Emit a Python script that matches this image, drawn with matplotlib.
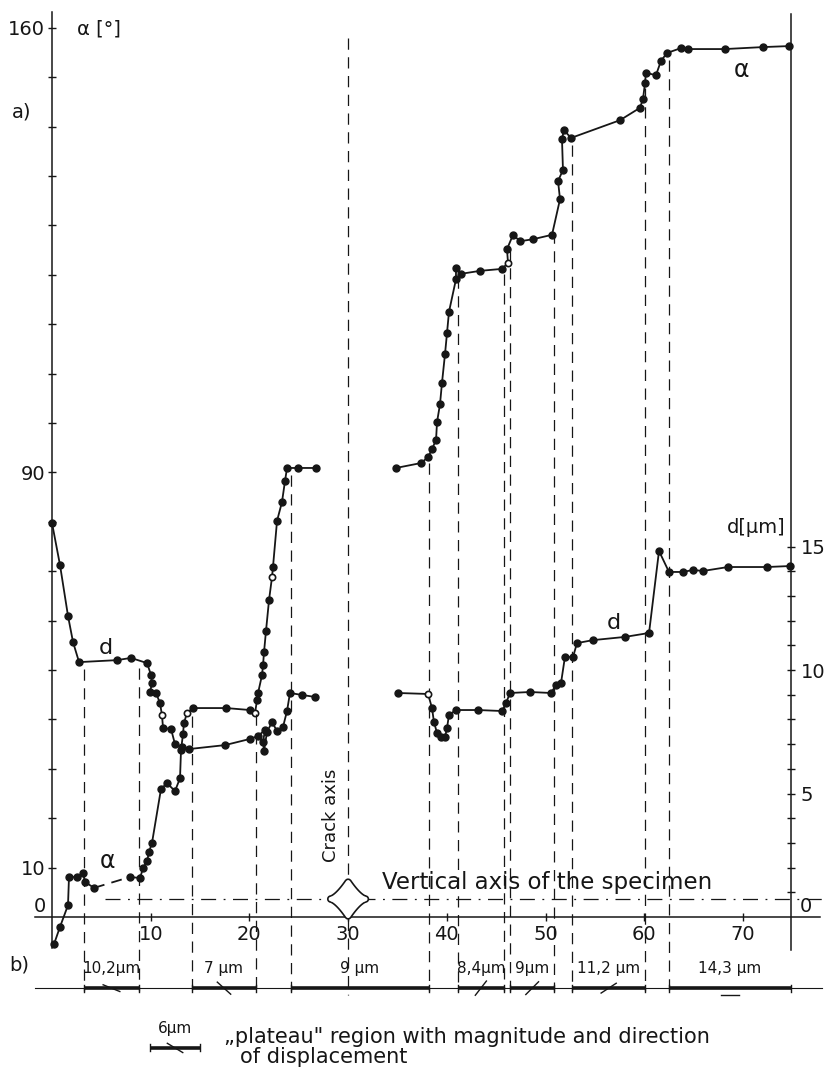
import numpy as np
import matplotlib.pyplot as plt

# --- data ---------------------------------------------------------------
# position along the specimen (x) and the angle alpha [deg], left of crack
alpha_left_x = [0.2, 0.81, 1.62, 1.72, 2.53, 3.14, 3.34, 4.26, 7.90, 8.92, 9.22, 9.63,
                9.83, 10.13, 11.04, 11.65, 12.46, 12.97, 13.07, 13.27, 13.37, 13.68,
                14.29, 17.63, 20.06, 20.57, 20.77, 20.87, 21.28, 21.38, 21.48, 21.68,
                21.99, 22.29, 22.39, 22.80, 23.30, 23.61, 23.81, 24.92, 26.75]
alpha_left = [-5.5, -2.0, 2.4, 8.1, 8.1, 8.9, 7.1, 5.9, 8.1, 7.9, 9.9, 11.3,
              13.2, 15.0, 25.9, 27.1, 25.5, 28.1, 33.8, 37.0, 39.3, 41.3,
              42.3, 42.3, 41.9, 41.3, 43.9, 45.3, 49.0, 51.0, 53.6, 57.9,
              64.2, 68.8, 70.9, 80.2, 84.0, 88.3, 90.9, 90.9, 90.9]

# displacement d [um], left of crack
d_left_x = [0.0, 0.81, 1.62, 2.13, 2.74, 6.59, 8.00, 9.63, 10.03, 10.13, 9.93, 10.54,
            10.94, 11.14, 11.25, 12.06, 12.46, 13.17, 13.88, 17.53, 20.06, 20.87,
            21.58, 21.38, 21.48, 21.78, 22.29, 22.80, 23.40, 23.81, 24.11, 25.33, 26.65]
d_left = [15.95, 14.25, 12.19, 11.13, 10.32, 10.40, 10.49, 10.28, 9.80, 9.47, 9.11, 9.07,
          8.66, 8.18, 7.65, 7.61, 7.00, 6.88, 6.80, 6.96, 7.21, 7.33,
          7.57, 7.09, 6.72, 7.49, 7.89, 7.53, 7.69, 8.34, 9.07, 8.99, 8.91]

# right of crack
alpha_right_x = [34.85, 37.39, 38.10, 38.50, 38.91, 39.01, 39.31, 39.51, 39.82, 40.02,
                 40.22, 40.93, 40.93, 41.44, 43.36, 45.59, 46.20, 46.10, 46.71, 47.42,
                 48.73, 50.66, 51.47, 51.27, 51.77, 51.67, 51.87, 52.58, 57.55, 59.57,
                 59.88, 60.08, 60.18, 61.19, 61.70, 62.31, 63.73, 64.44, 68.19, 72.04, 74.67]
alpha_right = [90.9, 91.9, 93.1, 94.7, 96.6, 100.2, 103.8, 108.1, 114.0, 118.2,
               122.5, 129.1, 131.4, 130.2, 130.8, 131.2, 132.4, 135.2, 138.1, 136.8,
               137.2, 138.1, 145.3, 149.0, 151.2, 157.5, 159.3, 157.7, 161.3, 163.8,
               165.6, 168.8, 170.9, 170.4, 173.3, 174.9, 175.9, 175.7, 175.7, 176.1, 176.3]

d_right_x = [35.06, 38.10, 38.50, 38.70, 39.01, 39.41, 39.82, 40.02, 40.22, 40.93,
             43.16, 45.59, 46.00, 46.40, 48.43, 50.56, 51.06, 51.57, 51.97, 52.79,
             53.19, 54.81, 58.05, 60.49, 61.50, 62.51, 63.93, 64.94, 65.96, 68.49,
             72.44, 74.77]
d_right = [9.07, 9.03, 8.46, 7.89, 7.45, 7.29, 7.29, 7.65, 8.18, 8.38,
           8.38, 8.34, 8.66, 9.07, 9.11, 9.07, 9.39, 9.47, 10.53, 10.53,
           11.09, 11.21, 11.34, 11.50, 14.82, 13.97, 13.97, 14.05, 14.01, 14.17,
           14.17, 14.21]

# points drawn as open circles
open_alpha_left = [21, 25, 33]
open_d_left = [13]
open_alpha_right = [16]
open_d_right = [1]

# plateau boundaries (dashed verticals) and crack axis
boundaries = [3.24, 8.81, 14.18, 20.67, 24.2, 38.2, 41.1, 45.8, 46.4, 50.9, 52.7, 60.1, 62.5]
crack_x = 30.0
x_end = 74.9

plateau_labels = ['10,2µm', '7 µm', '9 µm', '8,4µm', '9µm', '11,2 µm', '14,3 µm']
plateau_dirs = [-22, -42, None, 52, 45, 33, 0]   # direction of displacement [deg]

D_SCALE = 5  # drawing: 1 um of d takes as much height as 5 deg of alpha

# --- figure ----------------------------------------------------------------
INK = '#161616'
fig = plt.figure(figsize=(8.26, 10.67), dpi=100)
ax = fig.add_axes([0, 0, 1, 1])
ax.set_xlim(-5.27, 78.42)
ax.set_ylim(-30.36, 185.63)
ax.patch.set_visible(False)
ax2 = ax.twinx()
lo, hi = ax.get_ylim()
ax2.set_ylim(lo / D_SCALE, hi / D_SCALE)

for s in ['top', 'right']:
    ax.spines[s].set_visible(False)
for s in ['top', 'left', 'bottom']:
    ax2.spines[s].set_visible(False)
ax.spines['left'].set_position(('data', 0))
ax.spines['left'].set_bounds(-6.3, 183.2)
ax.spines['bottom'].set_position(('data', 0))
ax.spines['bottom'].set_bounds(-1.72, 77.8)
ax2.spines['right'].set_position(('data', x_end))
ax2.spines['right'].set_bounds(-1.34, 36.56)
for sp in [ax.spines['left'], ax.spines['bottom'], ax2.spines['right']]:
    sp.set_color(INK)
    sp.set_linewidth(1.1)

ax.set_xticks(range(10, 80, 10))
ax.set_xticklabels([str(v) for v in range(10, 80, 10)])
ytk = list(range(10, 190, 10))
ax.set_yticks(ytk)
ax.set_yticklabels(['10' if v == 10 else '90' if v == 90 else '160' if v == 180 else '' for v in ytk])
dtk = list(range(1, 16))
ax2.set_yticks(dtk)
ax2.set_yticklabels([str(v) if v % 5 == 0 else '' for v in dtk])
ax.tick_params(axis='x', direction='inout', length=6, width=1, labelsize=14, pad=3, colors=INK)
ax.tick_params(axis='y', direction='inout', length=6, width=1, labelsize=14, pad=2, colors=INK)
ax2.tick_params(axis='y', direction='inout', length=6, width=1, labelsize=14, pad=4, colors=INK)

ax.text(-0.6, 2.2, '0', ha='right', va='center', fontsize=14, color=INK)
ax2.text(x_end + 0.9, 2.2 / D_SCALE, '0', ha='left', va='center', fontsize=14, color=INK)
ax.text(2.55, 179.8, 'α [°]', ha='left', va='center', fontsize=14, color=INK)
ax2.text(74.3, 15.75, 'd[µm]', ha='right', va='center', fontsize=14, color=INK)
ax.text(-4.1, 163.0, 'a)', ha='left', va='center', fontsize=14, color=INK)
ax.text(-4.3, -9.7, 'b)', ha='left', va='center', fontsize=14, color=INK)

# --- curves ----------------------------------------------------------------
line_kw = dict(color=INK, lw=1.3, solid_joinstyle='round')
mk_kw = dict(ls='none', marker='o', ms=5, color=INK)


def draw_series(axis, xs, ys, hollow, dashed_seg=None):
    xs = np.asarray(xs)
    ys = np.asarray(ys)
    if dashed_seg is None:
        axis.plot(xs, ys, **line_kw)
    else:
        i = dashed_seg
        axis.plot(xs[:i + 1], ys[:i + 1], **line_kw)
        axis.plot(xs[i:i + 2], ys[i:i + 2], dashes=(6, 4), **line_kw)
        axis.plot(xs[i + 1:], ys[i + 1:], **line_kw)
    full = [k for k in range(len(xs)) if k not in hollow]
    axis.plot(xs[full], ys[full], **mk_kw)
    axis.plot(xs[hollow], ys[hollow], ls='none', marker='o', ms=4.5,
              mfc='white', mec=INK, mew=1.2)


draw_series(ax, alpha_left_x, alpha_left, open_alpha_left, dashed_seg=7)
draw_series(ax, alpha_right_x, alpha_right, open_alpha_right)
draw_series(ax2, d_left_x, d_left, open_d_left)
draw_series(ax2, d_right_x, d_right, open_d_right)

ax.text(5.6, 11.3, 'α', fontsize=17, color=INK, ha='center', va='center')
ax.text(69.9, 171.5, 'α', fontsize=17, color=INK, ha='center', va='center')
ax2.text(5.5, 10.9, 'd', fontsize=16, color=INK, ha='center', va='center')
ax2.text(56.9, 11.9, 'd', fontsize=16, color=INK, ha='center', va='center')


# --- dashed plateau boundaries -------------------------------------------
def curve_top(xs, ys, x0):
    best = None
    for k in range(len(xs) - 1):
        a, b = xs[k], xs[k + 1]
        if min(a, b) <= x0 <= max(a, b):
            y = ys[k] if a == b else ys[k] + (ys[k + 1] - ys[k]) * (x0 - a) / (b - a)
            best = y if best is None else max(best, y)
    return best


curves = [(alpha_left_x, alpha_left), (alpha_right_x, alpha_right),
          (d_left_x, [v * D_SCALE for v in d_left]),
          (d_right_x, [v * D_SCALE for v in d_right])]
bottom_dash = -15.0
dash_kw = dict(color=INK, lw=0.9, dashes=(9, 6))
for bx in boundaries:
    tops = [curve_top(cx, cy, bx) for cx, cy in curves]
    top = max(t for t in tops if t is not None)
    ax.plot([bx, bx], [top - 1.5, bottom_dash], **dash_kw)
ax.plot([crack_x, crack_x], [178.0, -15.8], **dash_kw)
ax.text(crack_x - 1.7, 20.6, 'Crack axis', rotation=90, fontsize=13, color=INK,
        ha='center', va='center')

# vertical axis of the specimen (dash-dot) and its star marker
spec_y = 3.64
ax.plot([5.4, 78.8], [spec_y, spec_y], color=INK, lw=0.9, dashes=(12, 6, 1.5, 6), clip_on=False)
t = np.linspace(0, 2 * np.pi, 400)
c, s = np.cos(t), np.sin(t)
sx = crack_x + 1.75 * np.sign(c) * np.abs(c) ** 2.0
sy = spec_y + 3.4 * np.sign(s) * np.abs(s) ** 3.0
ax.fill(sx, sy, facecolor=INK, edgecolor=INK, lw=5.6, joinstyle='round', zorder=5)
ax.fill(sx, sy, facecolor='white', edgecolor='white', lw=3.2, joinstyle='round', zorder=6)
ax.text(33.4, 6.9, 'Vertical axis of the specimen', fontsize=16.5, color=INK,
        ha='left', va='center')

# --- b) plateau regions ------------------------------------------------------
bar_y = -14.4
ax.plot([-1.72, 78.0], [bar_y, bar_y], color=INK, lw=0.8, clip_on=False)

px_x = ax.transData.transform((1, 0))[0] - ax.transData.transform((0, 0))[0]
px_y = ax.transData.transform((0, 1))[1] - ax.transData.transform((0, 0))[1]


def plateau_bar(x0, x1, y, ang, label, label_dy=4.0, fs=11):
    ax.plot([x0, x1], [y, y], color=INK, lw=2.6, solid_capstyle='butt')
    for xe in (x0, x1):
        ax.plot([xe, xe], [y - 0.7, y + 0.7], color=INK, lw=1.0)
    xm = (x0 + x1) / 2
    if ang is not None:
        L = 9.0
        r = np.radians(ang)
        dx, dy = L * np.cos(r) / px_x, L * np.sin(r) / px_y
        off = -6.5 / px_y if ang == 0 else 0.0
        ax.plot([xm - dx, xm + dx], [y + off - dy, y + off + dy], color=INK, lw=1.0)
    ax.text(xm, y + label_dy, label, fontsize=fs, color=INK, ha='center', va='center')


starts = boundaries[0::2]
ends = boundaries[1::2] + [x_end]
for x0, x1, ang, lab in zip(starts, ends, plateau_dirs, plateau_labels):
    plateau_bar(x0, x1, bar_y, ang, lab)

# legend
plateau_bar(9.93, 15.0, -26.5, -31, '6µm')
ax.text(17.4, -25.6, '„plateau" region with magnitude and direction', fontsize=15,
        color=INK, ha='left', va='baseline')
ax.text(19.05, -29.5, 'of displacement', fontsize=15, color=INK, ha='left', va='baseline')

fig.savefig('out.png', dpi=100)
